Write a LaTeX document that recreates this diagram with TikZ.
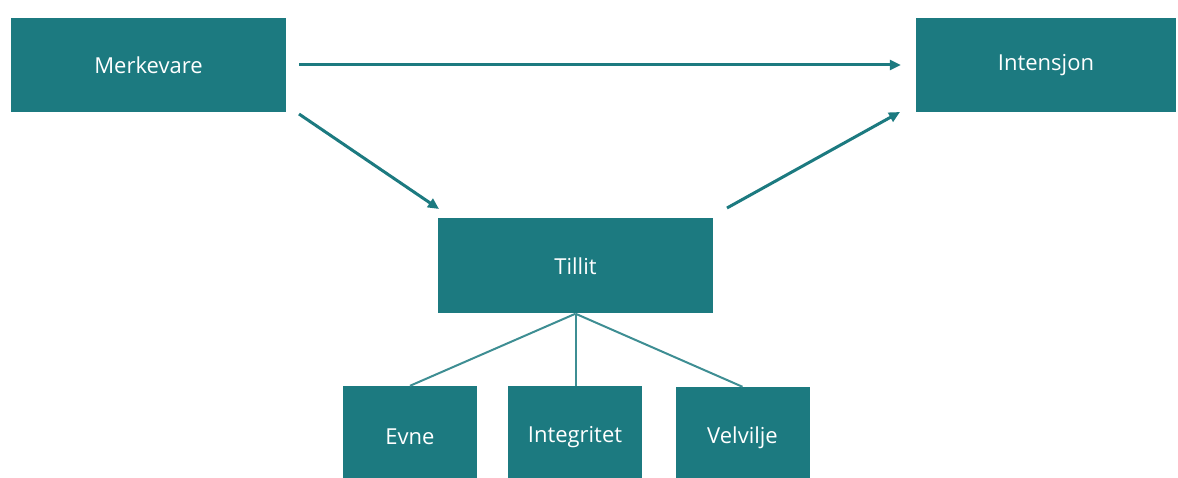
\documentclass[tikz,border=0pt]{standalone}
\usepackage{fontspec}
\setmainfont{Open Sans}
\usetikzlibrary{arrows.meta,calc}
\definecolor{teal1}{HTML}{1C7A80}
\tikzset{
  box/.style={fill=teal1, draw=none, text=white, inner sep=0pt, font=\fontsize{22}{26}\selectfont},
  arr/.style={draw=teal1, line width=3pt, -{Triangle[length=11pt,width=10pt]}},
  link/.style={draw=teal1!85!white, line width=2pt}
}
\begin{document}
\begin{tikzpicture}[x=1pt,y=-1pt]
\useasboundingbox (0,0) rectangle (1178,478);
\clip (0,0) rectangle (1178,478);
\node[box, minimum width=275pt, minimum height=94pt] (m) at (148.5,65) {Merkevare};
\node[box, minimum width=260pt, minimum height=94pt] (i) at (1046,65) {Intensjon};
\node[box, minimum width=275pt, minimum height=95pt] (t) at (575.5,266) {Tillit};
\node[box, minimum width=134pt, minimum height=102pt] (e) at (410,437) {Evne};
\node[box, minimum width=134pt, minimum height=102pt] (g) at (575,437) {Integritet};
\node[box, minimum width=134pt, minimum height=102pt] (v) at (742.5,438) {Velvilje};
\coordinate (a1s) at (299,114);
\coordinate (a1e) at (439,209);
\coordinate (a2s) at (727,208);
\coordinate (a2e) at (900,112);
\draw[arr] ($(m.east)+(13,0)$) -- ($(i.west)+(-15,0)$);
\draw[arr] (a1s) -- (a1e);
\draw[arr] (a2s) -- (a2e);
\draw[link] (t.south) -- (e.north);
\draw[link] (t.south) -- (g.north -| t.south);
\draw[link] (t.south) -- (v.north);
\end{tikzpicture}
\end{document}
